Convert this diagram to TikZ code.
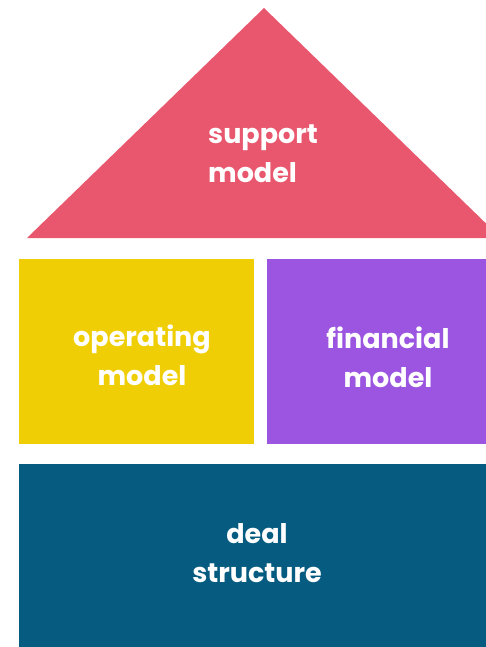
\documentclass[tikz,border=0pt]{standalone}
\usepackage{fontspec}
\setmainfont{Poppins}
\definecolor{roof}{HTML}{E8576E}
\definecolor{opcol}{HTML}{EFCE06}
\definecolor{fincol}{HTML}{9B55E0}
\definecolor{dealcol}{HTML}{055C80}
\begin{document}
\begin{tikzpicture}[x=1pt,y=-1pt,
  lbl/.style={text=white,font=\fontsize{27}{39}\selectfont\bfseries,align=center,inner sep=0pt}]
\useasboundingbox (0,0) rectangle (486,647);
\clip (0,0) rectangle (486,647);
\fill[roof] (264,8) -- (27,238) -- (501,238) -- cycle;
\fill[opcol] (19,259) rectangle (254,444);
\fill[fincol] (267,259) rectangle (490,444);
\fill[dealcol] (19,464) rectangle (490,650);
\node[lbl,align=left,anchor=west] (support) at (208,154) {support\\model};
\node[lbl] (operating) at (142,355) {operating\\model};
\node[lbl] (financial) at (388,357) {financial\\model};
\node[lbl] (deal) at (257,553) {deal\\structure};
\end{tikzpicture}
\end{document}
